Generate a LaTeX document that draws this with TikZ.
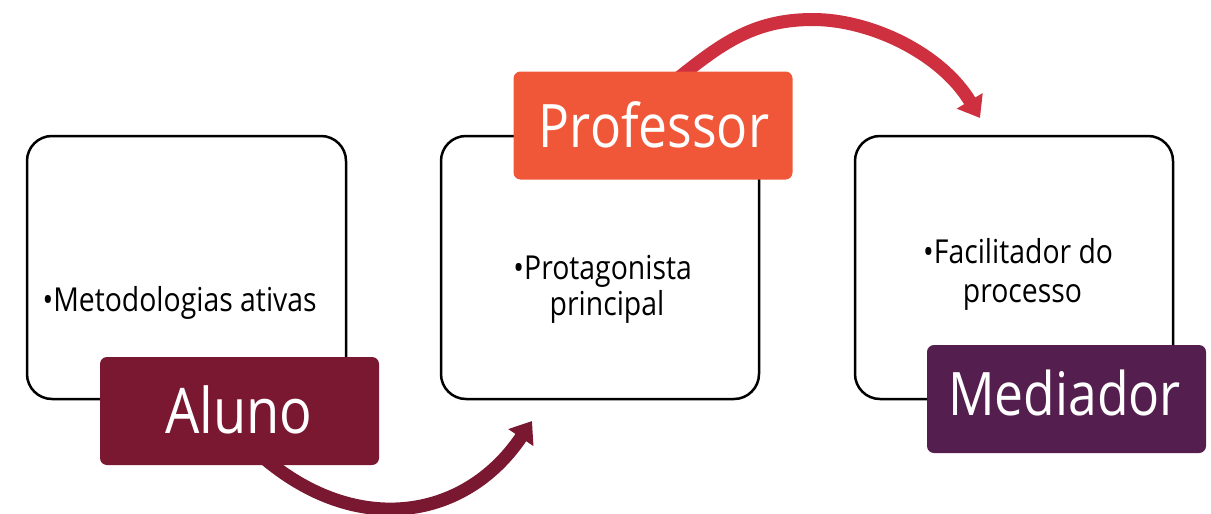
\documentclass[tikz,border=0pt]{standalone}
\usepackage{fontspec}
\setmainfont{Open Sans}[FakeStretch=0.86]
\usetikzlibrary{arrows.meta}
\definecolor{alunoc}{HTML}{7A1832}
\definecolor{profc}{HTML}{F05738}
\definecolor{medc}{HTML}{541E4E}
\definecolor{arrowr}{HTML}{CE3040}
\begin{document}
\begin{tikzpicture}[x=1pt,y=-1pt,
  card/.style={draw=black, line width=2.5pt, rounded corners=25pt},
  tagbox/.style={rectangle, rounded corners=7pt, draw=none, inner sep=0pt,
    minimum width=279pt, minimum height=108pt},
  tagtext/.style={text=white, inner sep=0pt, anchor=base},
  body/.style={font=\fontsize{33}{38}\selectfont, inner sep=0pt, anchor=base},
  arr/.style={line width=13pt, -{Triangle[length=20pt,width=29pt]}}]
\useasboundingbox (0,0) rectangle (1211,514);
% cards
\draw[card] (27,136) rectangle (346,399);
\draw[card] (441,136) rectangle (759,399);
\draw[card] (855,136) rectangle (1173,399);
% body texts
\node[body] (t1) at (185,311) {\llap{•}Metodologias ativas};
\node[body] (t2a) at (608,279) {\llap{•}Protagonista};
\node[body] (t2b) at (607,315) {principal};
\node[body] (t3a) at (1023.5,263) {\llap{•}Facilitador do};
\node[body] (t3b) at (1022.5,302) {processo};
% arrows
\coordinate (a1s) at (257,452);
\coordinate (a1e) at (532,421);
\draw[arr, alunoc] (a1s) .. controls (352,538) and (464,522) .. (a1e);
\coordinate (a2s) at (672,83);
\coordinate (a2m) at (813,19.5);
\coordinate (a2e) at (980,118);
\draw[arr, arrowr] (a2s) .. controls (719,45.7) and (751,19.5) .. (a2m)
   .. controls (870,19.5) and (941,53) .. (a2e);
% labels
\node[tagbox, fill=alunoc] (aluno) at (239.5,411) {};
\node[tagtext, font=\fontsize{63}{63}\selectfont] (alunot) at (239,433) {Aluno};
\node[tagbox, fill=profc] (prof) at (653,125.5) {};
\node[tagtext, font=\fontsize{60}{60}\selectfont] (proft) at (654,147) {Professor};
\node[tagbox, fill=medc] (med) at (1066.5,399) {};
\node[tagtext, font=\fontsize{60}{60}\selectfont] (medt) at (1064.5,415) {Mediador};
\end{tikzpicture}
\end{document}
